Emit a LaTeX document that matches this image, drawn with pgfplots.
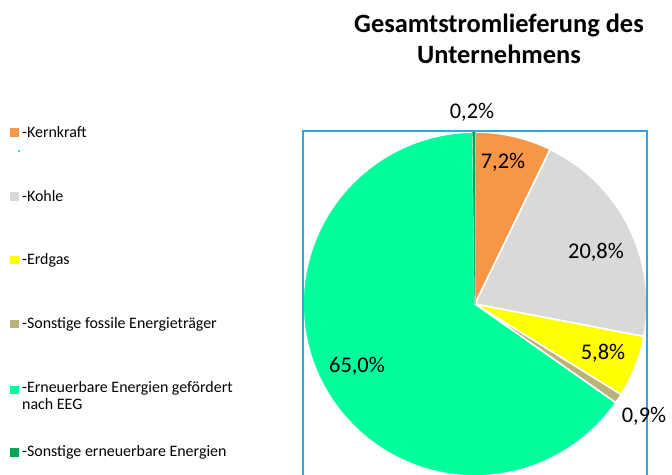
\documentclass[border=0pt]{standalone}
\usepackage{pgfplots}
\pgfplotsset{compat=1.18}
\usepackage{pgfplotstable}
\usepackage{fontspec}
\setmainfont{Carlito}
\definecolor{cKern}{HTML}{F79646}
\definecolor{cKohle}{HTML}{D9D9D9}
\definecolor{cGas}{HTML}{FFFF00}
\definecolor{cFoss}{HTML}{B9B37A}
\definecolor{cEEG}{HTML}{00FF9C}
\definecolor{cSEE}{HTML}{00A651}
\definecolor{cFrame}{HTML}{2FA6E0}

% slices clockwise from 12 o'clock
\pgfplotstableread{
name value color border lw
Kernkraft 7.2 cKern white 1.6
Kohle 20.8 cKohle white 1.6
Erdgas 5.8 cGas white 1.6
Fossil 0.9 cFoss white 1.6
EEG 65.0 cEEG white 1.6
SonstEE 0.2 cSEE cSEE 0.8
}\piedata

\begin{document}
\begin{tikzpicture}
\begin{axis}[name=ax, scale only axis, width=672bp, height=475bp,
  xmin=0, xmax=672, ymin=-475, ymax=0, hide axis, clip=true]
\def\cum{0}
\pgfplotsforeachungrouped \i in {0,...,5}{%
  \pgfplotstablegetelem{\i}{value}\of\piedata \let\sval\pgfplotsretval
  \pgfplotstablegetelem{\i}{color}\of\piedata \let\scol\pgfplotsretval
  \pgfplotstablegetelem{\i}{border}\of\piedata \let\sbor\pgfplotsretval
  \pgfplotstablegetelem{\i}{lw}\of\piedata \let\slw\pgfplotsretval
  \pgfmathsetmacro\aB{90-\cum/99.9*360}%
  \pgfmathsetmacro\cum{\cum+\sval}%
  \pgfmathsetmacro\aA{90-\cum/99.9*360}%
  \edef\temp{\noexpand\addplot[fill=\scol, draw=\sbor, line width=\slw bp, line join=round, domain=\aA:\aB, samples=90, variable=\noexpand\t] ({475+172*cos(\noexpand\t)},{-304+172*sin(\noexpand\t)}) -- (axis cs:475,-304) -- cycle;}%
  \temp
}
% frame of plot area
\draw[cFrame, line width=1.2bp] (axis cs:303,-490) rectangle (axis cs:647,-131);
% data labels
\begin{scope}[every node/.style={font=\fontsize{22.5}{27}\selectfont, inner sep=0pt}]
\node at (axis cs:472,-112) {0,2\%};
\node at (axis cs:503,-162) {7,2\%};
\node at (axis cs:596,-252) {20,8\%};
\node at (axis cs:603,-353) {5,8\%};
\node at (axis cs:644,-416) {0,9\%};
\node at (axis cs:357,-366) {65,0\%};
\end{scope}
% title
\begin{scope}[every node/.style={font=\bfseries\fontsize{26.5}{30}\selectfont, inner sep=0pt, anchor=base}]
\node at (axis cs:499,-33) {Gesamtstromlieferung des};
\node at (axis cs:499,-63.3) {Unternehmens};
\end{scope}
% legend
\begin{scope}[every node/.style={font=\fontsize{16}{17.4}\selectfont, inner sep=0pt, anchor=west, align=left}]
\fill[cKern] (axis cs:10,-128.3) rectangle (axis cs:19,-136.7);
\node at (axis cs:22,-132.5) {-Kernkraft};
\fill[cEEG] (axis cs:18.3,-150.3) rectangle (axis cs:19.7,-151.7);
\fill[cKohle] (axis cs:10,-191.7) rectangle (axis cs:19,-200.7);
\node at (axis cs:22,-196.2) {-Kohle};
\fill[cGas] (axis cs:10,-256) rectangle (axis cs:19,-264.5);
\node at (axis cs:22,-260.2) {-Erdgas};
\fill[cFoss] (axis cs:10,-320) rectangle (axis cs:19,-328.5);
\node at (axis cs:22,-324.2) {-Sonstige fossile Energieträger};
\fill[cEEG] (axis cs:10,-386) rectangle (axis cs:19,-394.5);
\node[anchor=north west] at (axis cs:22,-381) {-Erneuerbare Energien gefördert\\nach EEG};
\fill[cSEE] (axis cs:10,-447.7) rectangle (axis cs:19,-456.7);
\node at (axis cs:22,-452.2) {-Sonstige erneuerbare Energien};
\end{scope}
\end{axis}
\pgfresetboundingbox
\useasboundingbox (ax.south west) rectangle (ax.north east);
\end{tikzpicture}
\end{document}
